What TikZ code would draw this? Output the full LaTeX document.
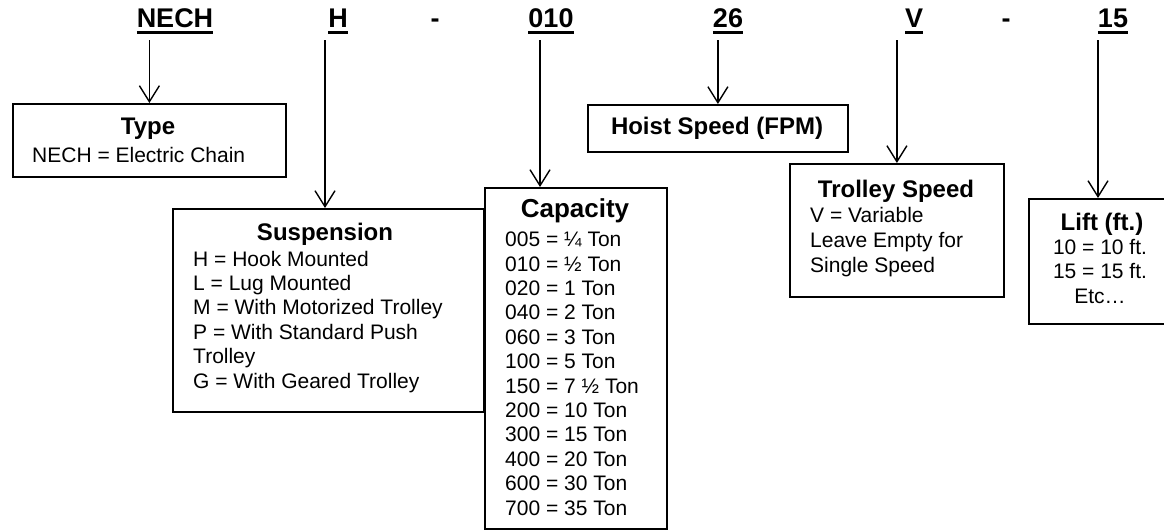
\documentclass[tikz,border=0pt]{standalone}
\usepackage{fontspec}
\setmainfont{Liberation Sans}
\usepackage{tikz}
\usetikzlibrary{arrows.meta, positioning, calc}

% thick underline used for the code letters
\newcommand{\ulcode}[1]{\setbox0=\hbox{#1}\rlap{\rule[-6pt]{\wd0}{3pt}}\box0}

\begin{document}
\begin{tikzpicture}[
    x=1pt, y=-1pt,
    codebox/.style 2 args={rectangle, draw=black, line width=1.8pt, inner sep=0pt, anchor=north west, minimum width=#1, minimum height=#2},
    code/.style={font=\fontsize{27}{32}\selectfont\bfseries, inner sep=0pt, anchor=base},
    heading/.style={font=\fontsize{24}{28}\selectfont\bfseries, inner sep=0pt, anchor=base},
    entries/.style={font=\fontsize{21}{24.4}\selectfont, inner sep=0pt, anchor=base west, align=left},
    arrow/.style={line width=1.4pt, -{Straight Barb[length=16pt, width=20pt, line width=1.4pt]}}
]
\useasboundingbox (0,0) rectangle (1164,532);
\clip (0,0) rectangle (1164,532);

% Code letters
\node (nech) [code] at (175,28) {\ulcode{NECH}};
\node (susp) [code] at (338,28) {\ulcode{H}};
\node (dasha) [code] at (435,28) {-};
\node (cap) [code] at (551,28) {\ulcode{010}};
\node (hoist) [code] at (728,28) {\ulcode{26}};
\node (trol) [code] at (914,28) {\ulcode{V}};
\node (dashb) [code] at (1006,28) {-};
\node (lift) [code] at (1113,28) {\ulcode{15}};

% Boxes
\node (typebox) [codebox={273}{73}] at (12,103) {};
\node (suspbox) [codebox={311}{203}] at (172,208) {};
\node (capbox) [codebox={182}{341}] at (484,187) {};
\node (hoistbox) [codebox={260}{47}] at (587,104) {};
\node (trolbox) [codebox={214}{133}] at (789,163) {};
\node (liftbox) [codebox={148}{125}] at (1028,198) {};

% Box texts (multi-line texts sit on the baseline of their last line)
\node (typetitle) [heading] at (148,135) {Type};
\node (typetext) [entries] at (32,162) {NECH = Electric Chain};

\node (susptitle) [heading] at (325,240) {Suspension};
\node (susptext) [entries] at (193,388) {H = Hook Mounted\\L = Lug Mounted\\M = With Motorized Trolley\\P = With Standard Push\\Trolley\\G = With Geared Trolley};

\node (captitle) [heading, font=\fontsize{26}{30}\selectfont\bfseries] at (575,217) {Capacity};
\node (captext) [entries] at (505,515) {005 = ¼ Ton\\010 = ½ Ton\\020 = 1 Ton\\040 = 2 Ton\\060 = 3 Ton\\100 = 5 Ton\\150 = 7 ½ Ton\\200 = 10 Ton\\300 = 15 Ton\\400 = 20 Ton\\600 = 30 Ton\\700 = 35 Ton};

\node (hoisttitle) [heading] at (717,135) {Hoist Speed (FPM)};

\node (troltitle) [heading] at (896,197) {Trolley Speed};
\node (troltext) [entries, font=\fontsize{21}{25}\selectfont] at (810,272) {V = Variable\\Leave Empty for\\Single Speed};

\node (lifttitle) [heading] at (1102,230) {Lift (ft.)};
\node (lifttext) [entries, anchor=base, align=center] at (1100,303) {10 = 10 ft.\\15 = 15 ft.\\Etc…};

% Arrow ends
\coordinate (suspin) at ($(suspbox.north west)+(153,0)$);
\coordinate (capin) at ($(capbox.north west)+(56,0)$);
\coordinate (liftin) at ($(liftbox.north west)+(70,0)$);

% Arrows
\draw [arrow] ($(typebox.north |- nech.south)+(0,6)$) -- (typebox.north);
\draw [arrow] ($(suspin |- susp.south)+(0,6)$) -- (suspin);
\draw [arrow] ($(capin |- cap.south)+(0,6)$) -- (capin);
\draw [arrow] ($(hoistbox.north |- hoist.south)+(0,6)$) -- (hoistbox.north);
\draw [arrow] ($(trolbox.north |- trol.south)+(0,6)$) -- (trolbox.north);
\draw [arrow] ($(liftin |- lift.south)+(0,6)$) -- (liftin);

\end{tikzpicture}
\end{document}
